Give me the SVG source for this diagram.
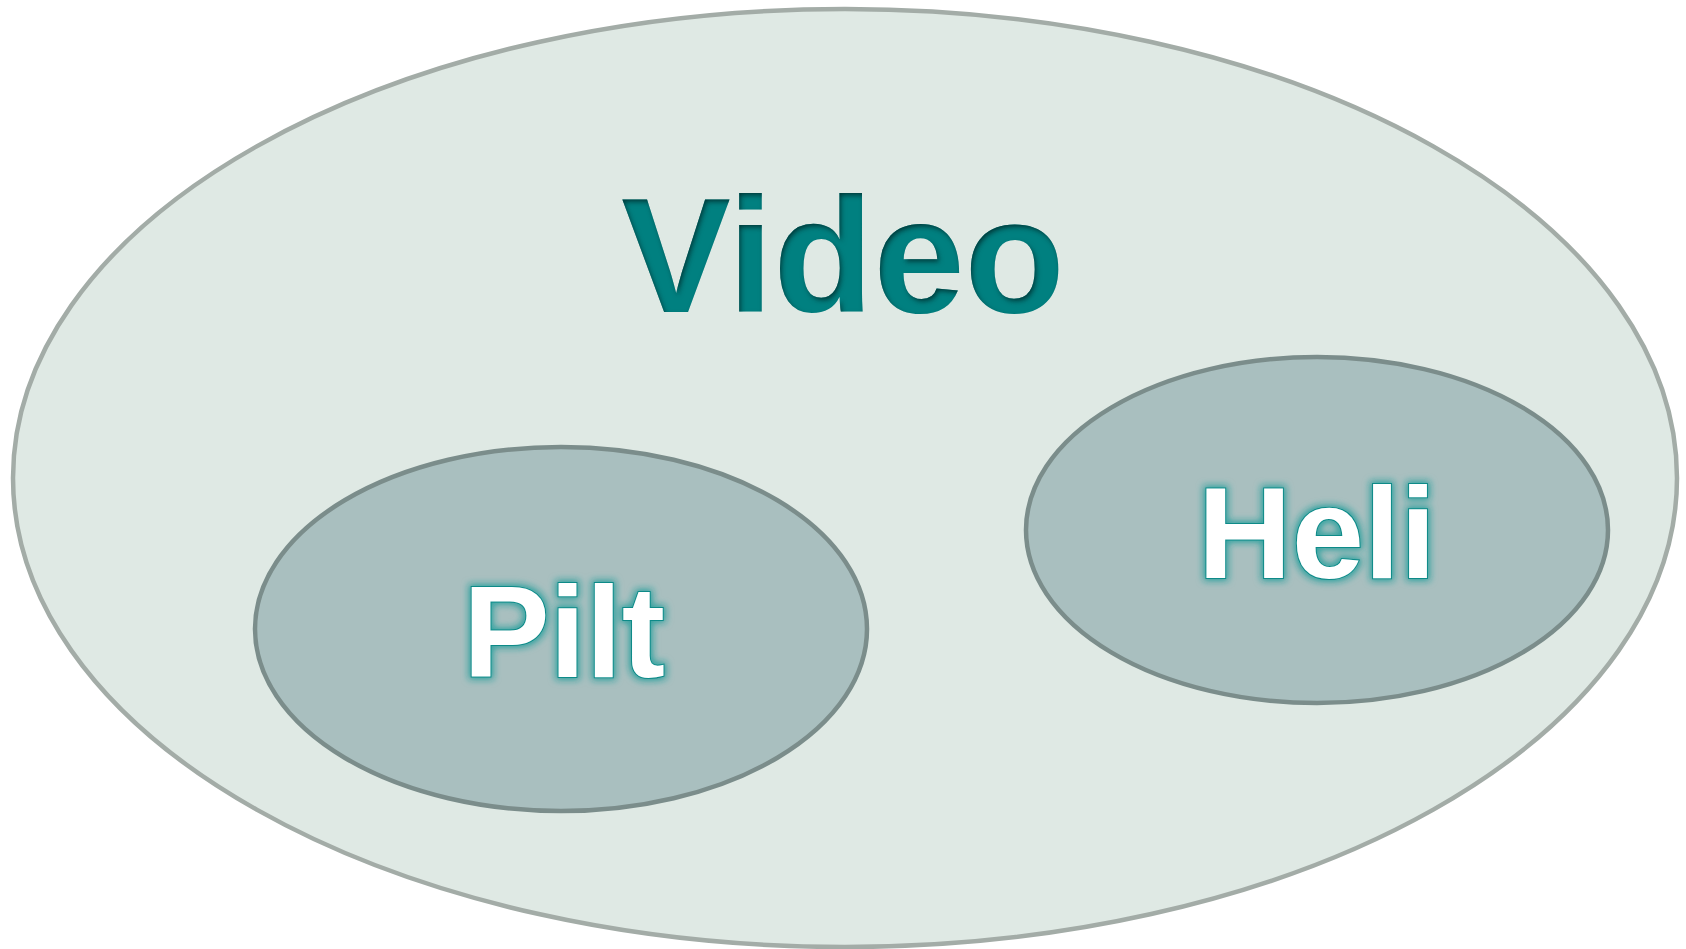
<svg xmlns="http://www.w3.org/2000/svg" width="1686" height="949" viewBox="0 0 1686 949">
  <style>
    .outer { fill: #dfe9e4; stroke: #a3aca7; stroke-width: 4.5; }
    .inner { fill: #a9bfbf; stroke: #7b8d8b; stroke-width: 4.5; }
    .title { font-family: "Liberation Sans", Arial, sans-serif; font-weight: bold; font-size: 164px; fill: #008080; text-anchor: middle; }
    .label { font-family: "Liberation Sans", Arial, sans-serif; font-weight: bold; font-size: 130px; fill: #ffffff; stroke: #0a8a88; stroke-width: 2; text-anchor: middle; paint-order: stroke; }
  </style>
  <defs>
    <!-- inset shadow for the heading -->
    <filter id="innerShadow" x="-10%" y="-10%" width="120%" height="120%">
      <feFlood flood-color="#002a2a" flood-opacity="0.9" result="flood"/>
      <feComposite in="flood" in2="SourceAlpha" operator="out" result="inverse"/>
      <feOffset in="inverse" dx="2" dy="3" result="offset"/>
      <feGaussianBlur in="offset" stdDeviation="2.5" result="blur"/>
      <feComposite in="blur" in2="SourceAlpha" operator="in" result="shadow"/>
      <feMerge>
        <feMergeNode in="SourceGraphic"/>
        <feMergeNode in="shadow"/>
      </feMerge>
    </filter>
    <!-- soft teal halo around the white labels -->
    <filter id="glow" x="-20%" y="-20%" width="140%" height="140%">
      <feMorphology in="SourceAlpha" operator="dilate" radius="2" result="grow"/>
      <feGaussianBlur in="grow" stdDeviation="3.5" result="blur"/>
      <feFlood flood-color="#1a9c99" flood-opacity="0.85"/>
      <feComposite in2="blur" operator="in" result="halo"/>
      <feMerge>
        <feMergeNode in="halo"/>
        <feMergeNode in="SourceGraphic"/>
      </feMerge>
    </filter>
  </defs>

  <g id="video">
    <ellipse class="outer" cx="845" cy="478" rx="832" ry="469"/>
    <text class="title" x="843" y="312" filter="url(#innerShadow)">Video</text>
  </g>

  <g id="pilt">
    <ellipse class="inner" cx="561" cy="629" rx="306" ry="182"/>
    <text class="label" x="564" y="677" filter="url(#glow)">Pilt</text>
  </g>

  <g id="heli">
    <ellipse class="inner" cx="1317" cy="530" rx="291" ry="173"/>
    <text class="label" x="1317" y="578" filter="url(#glow)">Heli</text>
  </g>

  <g id="connectors"></g>
</svg>
